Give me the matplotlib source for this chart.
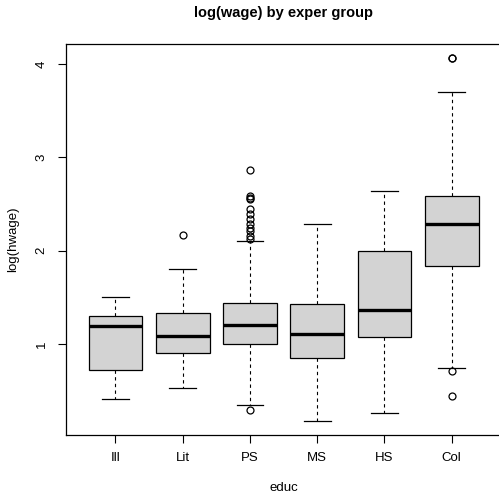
import matplotlib
matplotlib.use("Agg")
import matplotlib.pyplot as plt

categories = ['Ill', 'Lit', 'PS', 'MS', 'HS', 'Col']
whisker_lo = [0.41, 0.53, 0.35, 0.18, 0.26, 0.74]
q1 = [0.72, 0.90, 1.00, 0.85, 1.08, 1.84]
median = [1.19, 1.09, 1.20, 1.11, 1.36, 2.29]
q3 = [1.30, 1.33, 1.44, 1.43, 2.00, 2.59]
whisker_hi = [1.50, 1.80, 2.10, 2.29, 2.64, 3.70]
outliers = [
    [],
    [2.17],
    [2.86, 2.59, 2.57, 2.55, 2.45, 2.39, 2.34, 2.29, 2.24, 2.21, 2.16, 2.13, 0.29],
    [],
    [],
    [4.07, 4.06, 0.71, 0.44],
]
yticks = [1, 2, 3, 4]

plt.rcParams['font.family'] = ['Liberation Sans', 'DejaVu Sans']

W, H = 499, 494
fig = plt.figure(figsize=(W / 100, H / 100), dpi=100)
left, right, top, bottom = 65.7, 501.5, 44, 435
ax = fig.add_axes([left / W, 1 - bottom / H, (right - left) / W, (bottom - top) / H])

stats = []
for i, c in enumerate(categories):
    stats.append(dict(label=c, whislo=whisker_lo[i], q1=q1[i], med=median[i],
                      q3=q3[i], whishi=whisker_hi[i], fliers=outliers[i]))

ax.bxp(stats, positions=range(1, len(categories) + 1), widths=0.8, capwidths=0.4,
       patch_artist=True,
       boxprops=dict(facecolor='#d3d3d3', edgecolor='black', linewidth=0.9),
       medianprops=dict(color='black', linewidth=2.4, solid_capstyle='butt'),
       whiskerprops=dict(color='black', linewidth=0.8, linestyle=(0, (3, 3))),
       capprops=dict(color='black', linewidth=0.9),
       flierprops=dict(marker='o', markerfacecolor='none', markeredgecolor='black',
                       markersize=5, markeredgewidth=0.9))

ax.set_xlim(0.26, 6.74)
ax.set_ylim(0.025, 4.215)
ax.set_yticks(yticks)
ax.set_yticklabels([str(t) for t in yticks], rotation=90, va='center')
ax.set_xticks(range(1, len(categories) + 1))
ax.set_xticklabels(categories)
ax.tick_params(axis='both', direction='out', length=6, width=0.8, labelsize=9.5,
               colors='black')
ax.tick_params(axis='y', pad=7)
ax.tick_params(axis='x', pad=6)
for s in ax.spines.values():
    s.set_linewidth(0.9)
    s.set_color('black')
ax.spines['right'].set_visible(False)

ax.set_xlabel('educ', fontsize=9.5)
ax.xaxis.set_label_coords(0.5, -0.1355)
ax.set_ylabel('log(hwage)', fontsize=9.5)
ax.yaxis.set_label_coords(-0.121, 0.5)
ax.yaxis.label.set_va('center')
ax.xaxis.label.set_va('center')

fig.text((left + right) / 2 / W, 1 - 13 / H, 'log(wage) by exper group',
         ha='center', va='center', fontsize=10.5, fontweight='bold')

fig.savefig('out.png', dpi=100)
